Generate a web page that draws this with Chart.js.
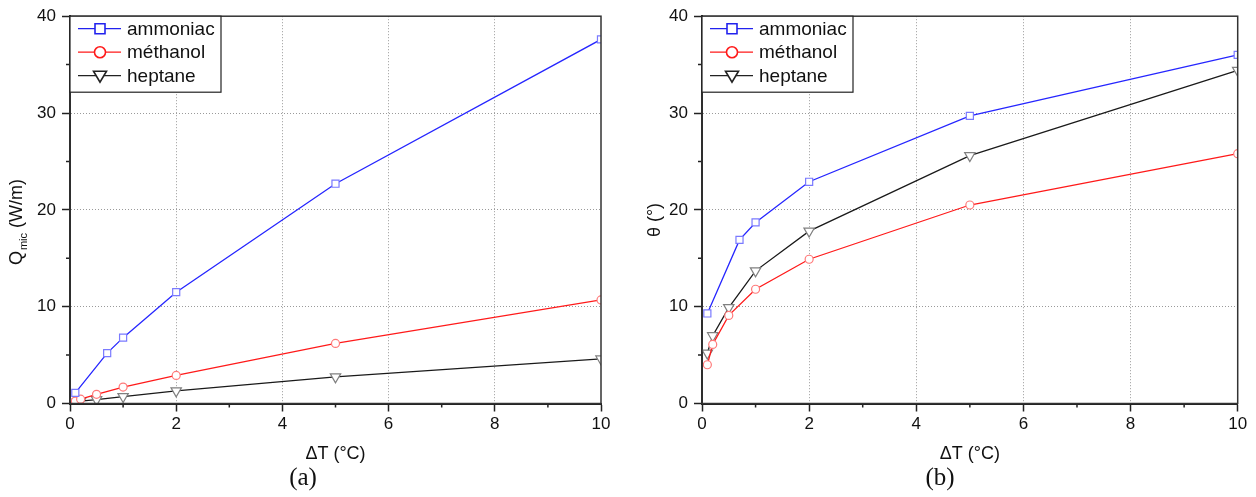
<!DOCTYPE html>
<html>
<head>
<meta charset="utf-8">
<script src="https://cdn.jsdelivr.net/npm/chart.js@4.4.0/dist/chart.umd.min.js"></script>
<style>
body { margin: 0; background: #fff; width: 1256px; height: 497px; overflow: hidden; position: relative; }
.box { position: absolute; top: 0; width: 628px; height: 497px; }
</style>
</head>
<body>
<div class="box" style="left:0"><canvas id="chartA" width="628" height="497"></canvas></div>
<div class="box" style="left:628px"><canvas id="chartB" width="628" height="497"></canvas></div>
<script>
'use strict';
// delta T values (°C)
const xAmmoniac = [0.1, 0.7, 1, 2, 5, 10];
const xOthers = [0.1, 0.2, 0.5, 1, 2, 5, 10];

// (a) Q_mic (W/m)
const qAmmoniac = [1.1, 5.2, 6.8, 11.5, 22.7, 37.6];
const qMethanol = [0.25, 0.45, 0.95, 1.7, 2.9, 6.2, 10.7];
const qHeptane = [0.15, 0.25, 0.4, 0.72, 1.3, 2.75, 4.6];

// (b) theta (°)
const tAmmoniac = [9.3, 16.9, 18.7, 22.9, 29.7, 36.0];
const tMethanol = [4.0, 6.1, 9.1, 11.8, 14.9, 20.5, 25.8];
const tHeptane = [5.2, 7.0, 9.9, 13.7, 17.8, 25.6, 34.4];

const labels = ['ammoniac', 'méthanol', 'heptane'];
const xTicks = [0, 2, 4, 6, 8, 10];
const yTicks = [0, 10, 20, 30, 40];
const minorX = [1, 3, 5, 7, 9];
const minorY = [5, 15, 25, 35];

const sans = '"Liberation Sans", Arial, sans-serif';

function pts(xs, ys) {
  return xs.map((x, i) => ({ x: x, y: ys[i] }));
}

function makeSets(a, m, h) {
  return [
    { label: labels[0], data: pts(xAmmoniac, a), borderColor: '#2626ff', borderWidth: 1.3,
      pointStyle: 'rect', pointRadius: 5, pointBorderColor: '#7a7aff', pointBackgroundColor: '#fff',
      pointBorderWidth: 1.2, legendColor: '#2222ee' },
    { label: labels[1], data: pts(xOthers, m), borderColor: '#ff1a1a', borderWidth: 1.3,
      pointStyle: 'circle', pointRadius: 4, pointBorderColor: '#ff7a7a', pointBackgroundColor: '#fff',
      pointBorderWidth: 1.2, legendColor: '#ff1a1a' },
    { label: labels[2], data: pts(xOthers, h), borderColor: '#1a1a1a', borderWidth: 1.3,
      pointStyle: 'triangle', pointRotation: 180, pointRadius: 6, pointBorderColor: '#808080',
      pointBackgroundColor: '#fff', pointBorderWidth: 1.2, legendColor: '#222' }
  ];
}

const framePlugin = {
  id: 'frame',
  afterDatasetsDraw(chart, args, opts) {
    const { ctx, chartArea: a, scales } = chart;
    ctx.save();
    // minor ticks
    ctx.strokeStyle = '#222';
    ctx.lineWidth = 1.5;
    ctx.beginPath();
    minorX.forEach(v => {
      const px = scales.x.getPixelForValue(v);
      ctx.moveTo(px, a.bottom); ctx.lineTo(px, a.bottom + 4);
    });
    minorY.forEach(v => {
      const py = scales.y.getPixelForValue(v);
      ctx.moveTo(a.left, py); ctx.lineTo(a.left - 4, py);
    });
    ctx.stroke();
    // box round the plot
    ctx.strokeStyle = '#333';
    ctx.lineWidth = 1.5;
    ctx.strokeRect(a.left, a.top, a.right - a.left, a.bottom - a.top);

    // legend
    const lx = a.left, ly = a.top, lw = 151, lh = 76;
    ctx.fillStyle = '#fff';
    ctx.fillRect(lx, ly, lw, lh);
    ctx.strokeStyle = '#222';
    ctx.lineWidth = 1.2;
    ctx.strokeRect(lx, ly, lw, lh);
    chart.data.datasets.forEach((ds, i) => {
      const y = ly + 12.5 + i * 23.5;
      const c = ds.legendColor;
      ctx.strokeStyle = c;
      ctx.lineWidth = 1.3;
      ctx.beginPath(); ctx.moveTo(lx + 8, y); ctx.lineTo(lx + 51, y); ctx.stroke();
      const mx = lx + 30;
      ctx.fillStyle = '#fff';
      ctx.lineWidth = 1.6;
      ctx.beginPath();
      if (ds.pointStyle === 'rect') {
        ctx.rect(mx - 5, y - 5, 10, 10);
      } else if (ds.pointStyle === 'circle') {
        ctx.arc(mx, y, 5.5, 0, Math.PI * 2);
      } else {
        ctx.moveTo(mx - 6.5, y - 4.5); ctx.lineTo(mx + 6.5, y - 4.5); ctx.lineTo(mx, y + 6.5); ctx.closePath();
      }
      ctx.fill(); ctx.stroke();
      ctx.fillStyle = '#111';
      ctx.font = '19px ' + sans;
      ctx.textBaseline = 'middle';
      ctx.textAlign = 'left';
      ctx.fillText(ds.label, lx + 57, y + 1);
    });

    // y axis title
    const t = opts.yTitle;
    ctx.translate(t.cx, t.cy);
    ctx.rotate(-Math.PI / 2);
    ctx.fillStyle = '#111';
    ctx.textBaseline = 'middle';
    ctx.textAlign = 'left';
    const big = '18px ' + sans, small = '11px ' + sans;
    ctx.font = big; const w1 = ctx.measureText(t.main).width; const w3 = ctx.measureText(t.rest).width;
    ctx.font = small; const w2 = t.sub ? ctx.measureText(t.sub).width + 1 : 0;
    let x0 = -(w1 + w2 + w3) / 2;
    ctx.font = big; ctx.fillText(t.main, x0, 0);
    if (t.sub) { ctx.font = small; ctx.fillText(t.sub, x0 + w1 + 1, 7); }
    ctx.font = big; ctx.fillText(t.rest, x0 + w1 + w2, 0);
    ctx.restore();
  }
};

function makeChart(id, sets, pad, yWidth, xHeight, tag, yTitle) {
  return new Chart(document.getElementById(id), {
    type: 'line',
    data: { datasets: sets },
    plugins: [framePlugin],
    options: {
      responsive: false,
      animation: false,
      layout: { padding: pad },
      scales: {
        x: {
          type: 'linear', min: 0, max: 10,
          afterBuildTicks: s => { s.ticks = xTicks.map(v => ({ value: v })); },
          afterFit: s => { s.height = xHeight; },
          ticks: { font: { family: sans, size: 17 }, color: '#111', padding: 3, maxRotation: 0 },
          grid: {
            color: c => (c.tick && c.tick.value > 0 && c.tick.value < 10) ? '#9a9a9a' : 'rgba(0,0,0,0)',
            lineWidth: 1, tickColor: '#222', tickLength: 8, tickWidth: 1.5
          },
          border: { color: '#222', width: 2, dash: [1, 2] },
          title: { display: true, text: 'ΔT (°C)', font: { family: sans, size: 18 }, color: '#111', padding: { top: 0, bottom: -2 } }
        },
        y: {
          min: 0, max: 40,
          afterBuildTicks: s => { s.ticks = yTicks.map(v => ({ value: v })); },
          afterFit: s => { s.width = yWidth; },
          ticks: { font: { family: sans, size: 17 }, color: '#111', padding: 6 },
          grid: {
            color: c => (c.tick && c.tick.value > 0 && c.tick.value < 40) ? '#9a9a9a' : 'rgba(0,0,0,0)',
            lineWidth: 1, tickColor: '#222', tickLength: 8, tickWidth: 1.5
          },
          border: { color: '#222', width: 2, dash: [1, 2] }
        }
      },
      plugins: {
        legend: { display: false },
        tooltip: { enabled: false },
        title: {
          display: true, text: tag, position: 'bottom', color: '#111',
          font: { family: '"Liberation Serif", "DejaVu Serif", serif', size: 25, weight: 'normal' },
          padding: { top: 0, bottom: 4 }
        },
        frame: { yTitle: yTitle }
      }
    }
  });
}

makeChart('chartA', makeSets(qAmmoniac, qMethanol, qHeptane),
  { left: 5, right: 27, top: 14, bottom: 0 }, 65, 59.5, '(a)',
  { main: 'Q', sub: 'mic', rest: ' (W/m)', cx: 17, cy: 222 });

makeChart('chartB', makeSets(tAmmoniac, tMethanol, tHeptane),
  { left: 14.3, right: 18.3, top: 10.7, bottom: 0 }, 59.7, 59.5, '(b)',
  { main: 'θ', sub: '', rest: ' (°)', cx: 27, cy: 220 });
</script>
</body>
</html>
